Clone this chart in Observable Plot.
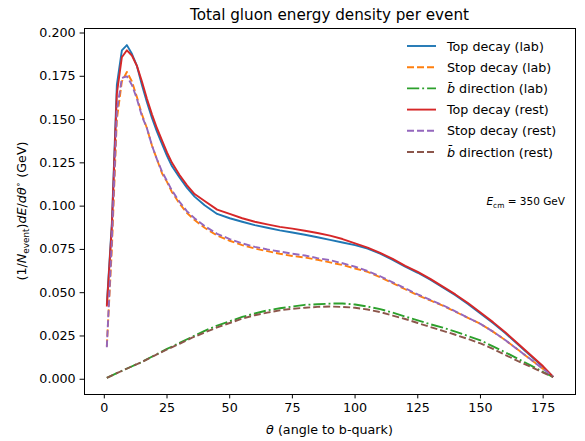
<!DOCTYPE html>
<html>
<head>
<meta charset="utf-8">
<script src="https://cdn.jsdelivr.net/npm/d3@7"></script>
<script src="https://cdn.jsdelivr.net/npm/@observablehq/plot@0.6"></script>
<style>
  html, body { margin: 0; padding: 0; background: white; }
  svg { display: block; }
</style>
</head>
<body>
<div id="chart"></div>
<script>
// ---- data ----
const xTicks = [0, 25, 50, 75, 100, 125, 150, 175];
const yTicks = [0, 0.025, 0.05, 0.075, 0.1, 0.125, 0.15, 0.175, 0.2];

const thetaMain = [1,3,5,7,9,11,13,15,17,19,21,23,25,27,30,33,36,40,45,50,55,60,65,70,75,80,85,90,95,100,105,110,115,120,125,130,135,140,145,150,155,160,165,170,175,179];
const thetaB = [1,5,10,15,20,25,30,35,40,45,50,55,60,65,70,75,80,85,90,95,100,105,110,115,120,125,130,135,140,145,150,155,160,165,170,175,179];

const topLab = [0.043,0.090,0.170,0.190,0.193,0.188,0.181,0.170,0.160,0.151,0.143,0.136,0.129,0.123,0.1165,0.1105,0.1055,0.1005,0.0955,0.093,0.091,0.089,0.0875,0.086,0.0848,0.0835,0.082,0.0805,0.079,0.0775,0.0755,0.0725,0.069,0.065,0.0615,0.0575,0.053,0.0485,0.0435,0.038,0.0325,0.0265,0.020,0.0135,0.007,0.0013];
const stopLab = [0.019,0.075,0.150,0.172,0.1775,0.172,0.163,0.153,0.145,0.135,0.127,0.119,0.114,0.108,0.1015,0.096,0.092,0.0875,0.083,0.080,0.0775,0.0755,0.074,0.0725,0.0712,0.0703,0.069,0.0675,0.066,0.064,0.062,0.059,0.0555,0.052,0.0485,0.0455,0.0425,0.039,0.0355,0.032,0.0275,0.0225,0.017,0.0115,0.006,0.0013];
const bbarLab = [0.0008,0.0035,0.0068,0.010,0.0138,0.0175,0.021,0.0245,0.028,0.031,0.0335,0.036,0.038,0.0398,0.041,0.042,0.043,0.0433,0.0437,0.0438,0.0432,0.042,0.0405,0.0385,0.0362,0.034,0.0318,0.0298,0.0275,0.025,0.0225,0.019,0.0155,0.0118,0.008,0.0042,0.0013];
const topRest = [0.042,0.088,0.165,0.186,0.190,0.187,0.181,0.172,0.162,0.153,0.145,0.138,0.131,0.125,0.118,0.112,0.107,0.103,0.098,0.0955,0.093,0.091,0.0895,0.088,0.087,0.0858,0.0845,0.083,0.081,0.0785,0.076,0.073,0.0695,0.0655,0.062,0.058,0.0535,0.049,0.044,0.0385,0.033,0.027,0.0205,0.014,0.0075,0.0013];
const stopRest = [0.0185,0.080,0.155,0.174,0.175,0.170,0.162,0.152,0.145,0.135,0.127,0.120,0.1145,0.109,0.1025,0.097,0.093,0.0885,0.084,0.081,0.0785,0.0765,0.075,0.0738,0.0725,0.0715,0.070,0.0688,0.067,0.065,0.0625,0.0595,0.056,0.0525,0.049,0.0458,0.0428,0.0392,0.0355,0.032,0.0275,0.0225,0.017,0.0115,0.006,0.0013];
const bbarRest = [0.0008,0.0035,0.0068,0.010,0.0137,0.0172,0.0205,0.024,0.027,0.030,0.0325,0.035,0.037,0.0385,0.0398,0.0407,0.0413,0.0418,0.042,0.0418,0.0413,0.0403,0.0388,0.0368,0.0348,0.0325,0.0302,0.028,0.0257,0.0233,0.0207,0.0175,0.014,0.0105,0.0072,0.0038,0.0013];

const seriesNames = ["Top decay (lab)", "Stop decay (lab)", "b direction (lab)", "Top decay (rest)", "Stop decay (rest)", "b direction (rest)"];
const seriesColors = ["#1f77b4", "#ff7f0e", "#2ca02c", "#d62728", "#9467bd", "#8c564b"];

// ---- build table ----
const DASH = "7,3";
const DASHDOT = "12.2,3,1.9,3";
const defs = [
  {xs: thetaMain, ys: topLab,  dash: null},
  {xs: thetaMain, ys: stopLab, dash: DASH},
  {xs: thetaB,    ys: bbarLab, dash: DASHDOT},
  {xs: thetaMain, ys: topRest, dash: null},
  {xs: thetaMain, ys: stopRest, dash: DASH},
  {xs: thetaB,    ys: bbarRest, dash: DASH}
].map((d, i) => ({...d, name: seriesNames[i], color: seriesColors[i]}));

const table = defs.flatMap(d => d.ys.map((y, i) => ({theta: d.xs[i], value: y, series: d.name})));

const FONT = "DejaVu Sans, sans-serif";

const chart = Plot.plot({
  width: 585,
  height: 441,
  marginLeft: 84,
  marginRight: 10,
  marginTop: 28,
  marginBottom: 47,
  style: {fontFamily: FONT, fontSize: "12.7px", color: "black", background: "white"},
  x: {domain: [-7.9, 187.9]},
  y: {domain: [-0.0088, 0.2026]},
  marks: [
    Plot.axisX({ticks: xTicks, tickSize: 4.4, tickPadding: 4.4, tickFormat: d => String(d), label: null, fontSize: 12.7}),
    Plot.axisY({ticks: yTicks, tickSize: 4.4, tickPadding: 4.4, tickFormat: d3.format(".3f"), label: null, fontSize: 12.7}),
    ...defs.map(d => Plot.line(table.filter(r => r.series === d.name), {
      x: "theta", y: "value", stroke: d.color, strokeWidth: 1.9,
      strokeDasharray: d.dash || undefined, strokeLinejoin: "round", strokeLinecap: "butt"
    })),
    Plot.frame({stroke: "black", strokeWidth: 1})
  ]
});

document.getElementById("chart").appendChild(chart);

const svg = d3.select(chart);

// title
svg.append("text")
  .attr("x", 329.5).attr("y", 20)
  .attr("text-anchor", "middle")
  .style("font-family", FONT).style("font-size", "15.2px")
  .attr("fill", "black")
  .text("Total gluon energy density per event");

// x label
const xl = svg.append("text")
  .attr("x", 329.5).attr("y", 434)
  .attr("text-anchor", "middle")
  .style("font-family", FONT).style("font-size", "12.7px")
  .attr("fill", "black");
xl.append("tspan").style("font-style", "italic").text("θ");
xl.append("tspan").text(" (angle to b-quark)");

// y label
const yl = svg.append("text")
  .attr("transform", "translate(26,211) rotate(-90)")
  .attr("text-anchor", "middle")
  .style("font-family", FONT).style("font-size", "12.7px")
  .attr("fill", "black");
yl.append("tspan").text("(1/");
yl.append("tspan").style("font-style", "italic").text("N");
yl.append("tspan").attr("dy", 3).style("font-size", "8.9px").text("event");
yl.append("tspan").attr("dy", -3).text(")");
yl.append("tspan").style("font-style", "italic").text("dE");
yl.append("tspan").text("/");
yl.append("tspan").style("font-style", "italic").text("dθ");
yl.append("tspan").attr("dy", -5).style("font-size", "8.9px").text("∘");
yl.append("tspan").attr("dy", 5).text(" (GeV)");

// legend
const lg = svg.append("g").attr("text-anchor", "start");
defs.forEach((d, i) => {
  const y = 46 + i * 21.2;
  lg.append("line")
    .attr("x1", 407).attr("x2", 436).attr("y1", y).attr("y2", y)
    .attr("stroke", d.color).attr("stroke-width", 1.9)
    .attr("stroke-dasharray", d.dash || null);
  const t = lg.append("text")
    .attr("x", 447).attr("y", y + 4.5)
    .attr("text-anchor", "start")
    .style("font-family", FONT).style("font-size", "12.7px")
    .attr("fill", "black");
  if (d.name.startsWith("b ")) {
    t.append("tspan").style("font-style", "italic").text("b\u0304");
    t.append("tspan").text(d.name.slice(1));
  } else {
    t.text(d.name);
  }
});

// annotation
const an = svg.append("text")
  .attr("x", 565).attr("y", 205)
  .attr("text-anchor", "end")
  .style("font-family", FONT).style("font-size", "10.5px")
  .attr("fill", "black");
an.append("tspan").style("font-style", "italic").text("E");
an.append("tspan").attr("dy", 2.5).style("font-size", "7.4px").text("cm");
an.append("tspan").attr("dy", -2.5).text(" = 350 GeV");
</script>
</body>
</html>
